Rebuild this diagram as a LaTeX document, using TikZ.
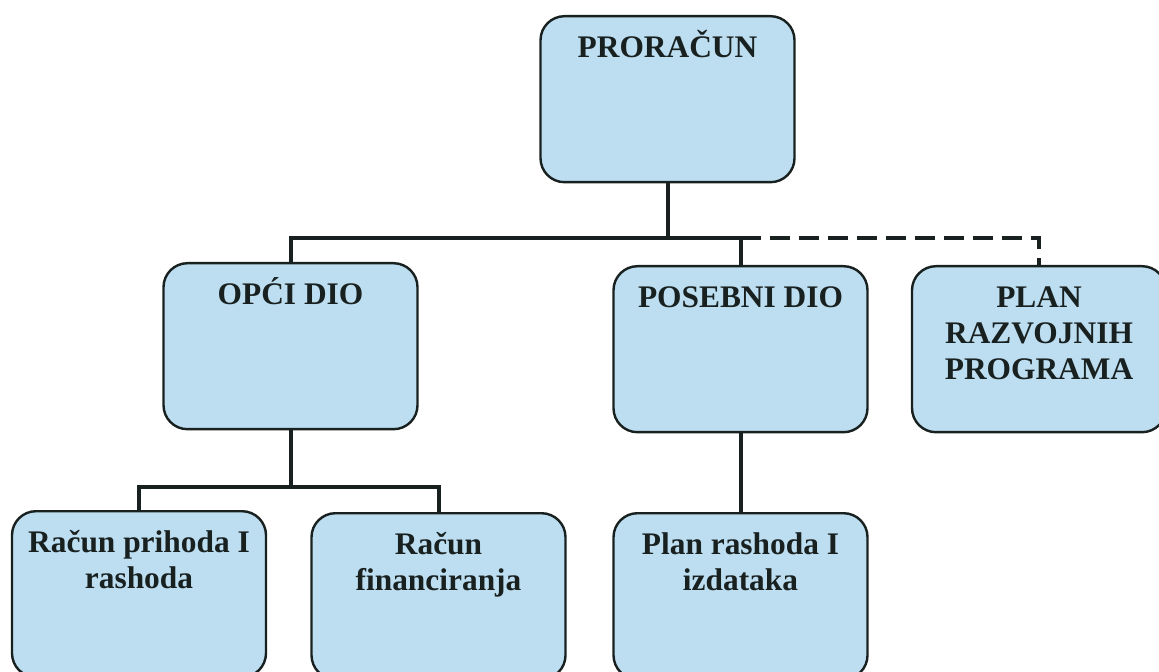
\documentclass[tikz,border=0pt]{standalone}
\usepackage{fontspec}
\setmainfont{Liberation Serif}
\usepackage{tikz}

\definecolor{boxblue}{RGB}{188,222,240}
\definecolor{inkdark}{RGB}{25,32,32}

% text inside a box: first baseline fixed, text hangs from the top
\newcommand{\boxtext}[1]{\parbox[t][83pt][t]{127pt}{\centering\rule{0pt}{20.5pt}#1}}

\begin{document}
\begin{tikzpicture}[x=0.5pt, y=-0.5pt, line width=2pt,
    box/.style={draw=inkdark, line width=1.2pt, fill=boxblue, rounded corners=12pt,
                inner sep=0pt, anchor=north, text=inkdark,
                font=\fontsize{15.7}{18}\selectfont\bfseries},
    conn/.style={draw=inkdark, line width=2pt},
    dashconn/.style={draw=inkdark, line width=1.8pt, dash pattern=on 10pt off 4.5pt}]
    \useasboundingbox (0, 0) rectangle (1159, 672);

    % draw boxes
    \node[box] (budget) at (667.5, 15) {\boxtext{PRORAČUN}};
    \node[box] (general) at (290.5, 262) {\boxtext{OPĆI DIO}};
    \node[box] (special) at (740.5, 265) {\boxtext{POSEBNI DIO}};
    \node[box] (devplan) at (1039, 265) {\boxtext{PLAN\\ RAZVOJNIH\\ PROGRAMA}};
    \node[box] (income) at (139, 510) {\boxtext{Račun prihoda I\\ rashoda}};
    \node[box] (finance) at (438.5, 512) {\boxtext{Račun\\ financiranja}};
    \node[box] (expense) at (740.5, 512) {\boxtext{Plan rashoda I\\ izdataka}};

    % draw bus points
    \coordinate (topbus) at (667.5, 238);
    \coordinate (lowbus) at (290.5, 487);

    % draw upper connectors
    \draw[conn] (budget.south) -- (topbus);
    \draw[conn] (general.north) |- (topbus) -| (special.north);
    \draw[dashconn] (special.north |- topbus) -| (devplan.north);

    % draw lower connectors
    \draw[conn] (general.south) -- (lowbus);
    \draw[conn] (income.north) |- (lowbus) -| (finance.north);
    \draw[conn] (special.south) -- (expense.north);

\end{tikzpicture}
\end{document}
